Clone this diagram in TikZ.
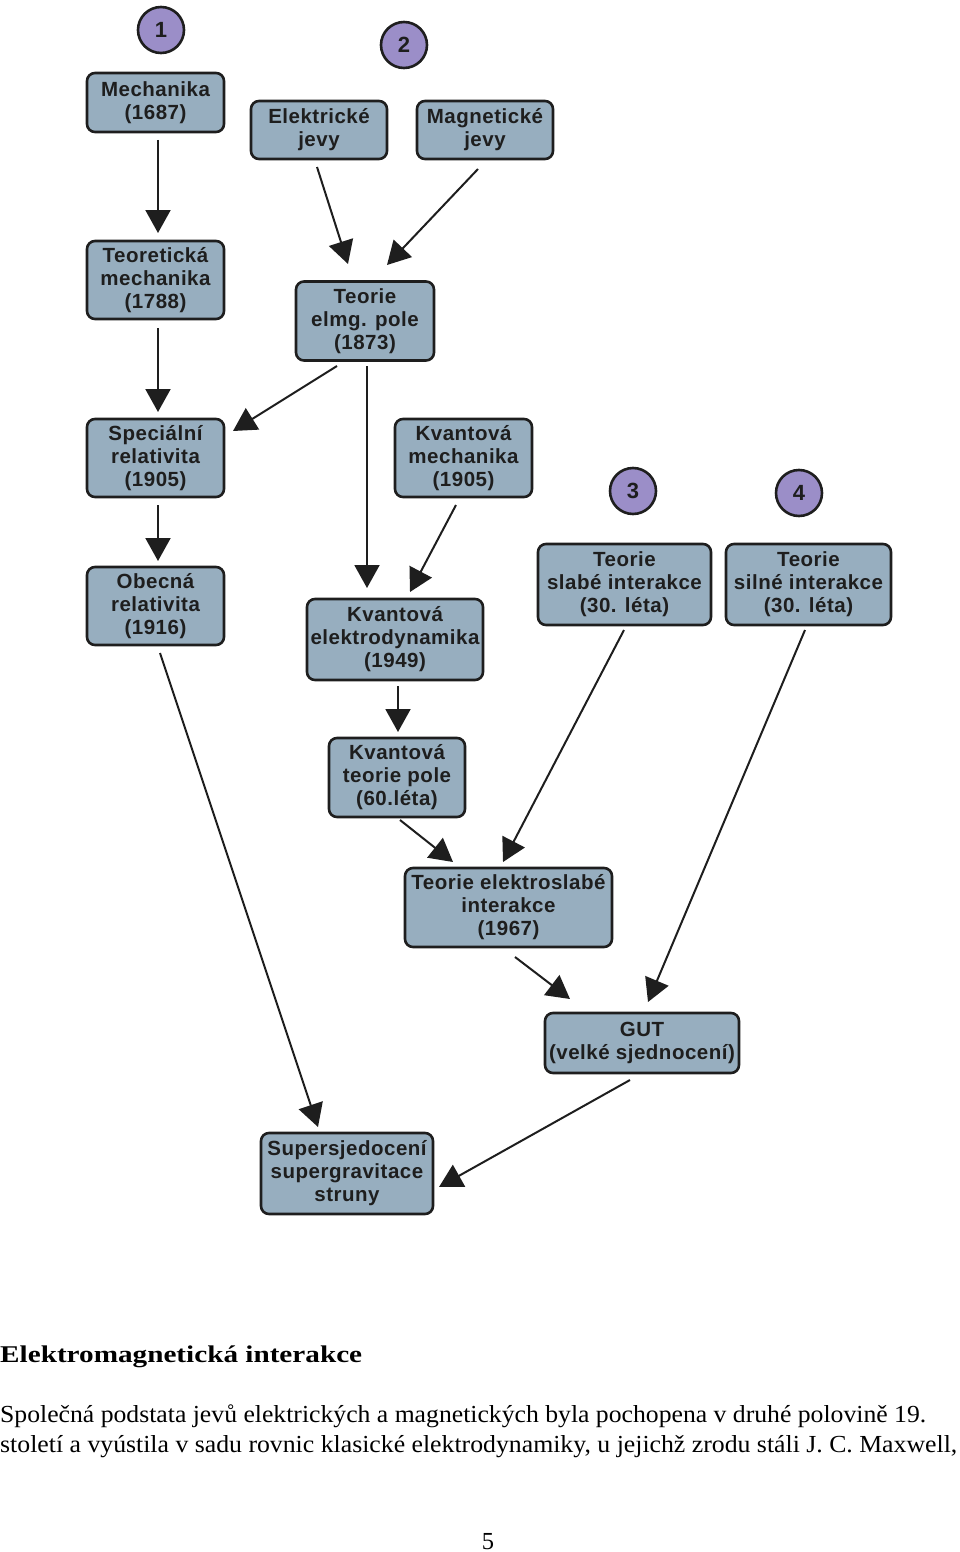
\documentclass[tikz,border=0pt]{standalone}
\usepackage{fontspec}
\usepackage{graphicx}
\setmainfont{Liberation Serif}
\newfontfamily\boxfont[LetterSpace=2.5]{Liberation Sans}
\usetikzlibrary{arrows.meta,calc}
\definecolor{boxblue}{HTML}{97AEBF}
\definecolor{circpurple}{HTML}{9B8EC8}
\definecolor{edge}{HTML}{1E1E1E}
\begin{document}
\begin{tikzpicture}[x=1pt,y=-1pt,
  box/.style={draw=edge, line width=2.6pt, fill=boxblue, rounded corners=8pt,
    align=center, inner sep=0pt, text=edge,
    font=\boxfont\bfseries\fontsize{20.5}{23}\selectfont},
  numc/.style={circle, draw=edge, line width=2.6pt, fill=circpurple,
    minimum size=46pt, inner sep=0pt, text=edge,
    font=\boxfont\bfseries\fontsize{22}{24}\selectfont},
  arr/.style={draw=edge, line width=2pt, -{Triangle[width=25pt,length=23pt]}},
  txt/.style={anchor=base west, inner sep=0pt, text=black}]
\path[use as bounding box] (0,0) rectangle (960,1552);

% numbered circles
\node[numc] (c1) at (161,30) {1};
\node[numc] (c2) at (404,45) {2};
\node[numc] (c3) at (633,491) {3};
\node[numc] (c4) at (799,493) {4};

% boxes
\node[box, minimum width=137pt, minimum height=59pt] (mech) at (155.5,102.5) {Mechanika\\(1687)};
\node[box, minimum width=136pt, minimum height=58pt] (elek) at (319,130) {Elektrické\\jevy};
\node[box, minimum width=136pt, minimum height=58pt] (magn) at (485,130) {Magnetické\\jevy};
\node[box, minimum width=137pt, minimum height=78pt] (teor) at (155.5,280) {Teoretická\\mechanika\\(1788)};
\node[box, minimum width=138pt, minimum height=79pt] (elmg) at (365,321) {Teorie\\elmg. pole\\(1873)};
\node[box, minimum width=137pt, minimum height=78pt] (spec) at (155.5,458) {Speciální\\relativita\\(1905)};
\node[box, minimum width=137pt, minimum height=78pt] (kvm) at (463.5,458) {Kvantová\\mechanika\\(1905)};
\node[box, minimum width=137pt, minimum height=78pt] (obec) at (155.5,606) {Obecná\\relativita\\(1916)};
\node[box, minimum width=173pt, minimum height=81pt] (slab) at (624.5,584.5) {Teorie\\slabé interakce\\(30. léta)};
\node[box, minimum width=165pt, minimum height=81pt] (siln) at (808.5,584.5) {Teorie\\silné interakce\\(30. léta)};
\node[box, minimum width=176pt, minimum height=81pt] (ked) at (395,639.5) {Kvantová\\elektrodynamika\\(1949)};
\node[box, minimum width=136pt, minimum height=79pt] (ktp) at (397,777.5) {Kvantová\\teorie pole\\(60.léta)};
\node[box, minimum width=207pt, minimum height=79pt] (elsl) at (508.5,907.5) {Teorie elektroslabé\\interakce\\(1967)};
\node[box, minimum width=194pt, minimum height=60pt] (gut) at (642,1043) {GUT\\(velké sjednocení)};
\node[box, minimum width=172pt, minimum height=81pt] (sup) at (347,1173.5) {Supersjedocení\\supergravitace\\struny};

% connectors
\draw[arr] ($(mech)+(2.5,37.5)$) -- ($(teor)+(2.5,-47)$);
\draw[arr] ($(elek)+(-2,37)$) -- ($(elmg)+(-17,-57)$);
\draw[arr] ($(magn)+(-7,39)$) -- ($(elmg)+(22,-56)$);
\draw[arr] ($(teor)+(2.5,48)$) -- ($(spec)+(2.5,-46)$);
\draw[arr] ($(elmg)+(-28,45)$) -- ($(spec)+(77.5,-27)$);
\draw[arr] ($(elmg)+(2,45)$) -- ($(ked)+(-28,-51.5)$);
\draw[arr] ($(kvm)+(-7.5,47)$) -- ($(ked)+(15,-47.5)$);
\draw[arr] ($(spec)+(2.5,47)$) -- ($(obec)+(2.5,-45)$);
\draw[arr] ($(obec)+(4.5,47)$) -- ($(sup)+(-29,-46.5)$);
\draw[arr] ($(ked)+(3,46.5)$) -- ($(ktp)+(1,-45.5)$);
\draw[arr] ($(ktp)+(3,42.5)$) -- ($(elsl)+(-55.5,-45.5)$);
\draw[arr] ($(slab)+(-0.5,45.5)$) -- ($(elsl)+(-5.5,-45.5)$);
\draw[arr] ($(elsl)+(6.5,49.5)$) -- ($(gut)+(-72,-44)$);
\draw[arr] ($(siln)+(-3.5,45.5)$) -- ($(gut)+(6,-41)$);
\draw[arr] ($(gut)+(-12,37)$) -- ($(sup)+(92,13.5)$);

% text below
\node[txt, font=\bfseries\fontsize{24}{28}\selectfont] (title) at (0,1362) {\resizebox{362pt}{\height}{Elektromagnetická interakce}};
\node[txt, font=\fontsize{24.5}{28}\selectfont] (p1) at (0,1422) {\resizebox{926pt}{\height}{Společná podstata jevů elektrických a magnetických byla pochopena v druhé polovině 19.}};
\node[txt, font=\fontsize{24.5}{28}\selectfont] (p2) at (0,1452) {\resizebox{957pt}{\height}{století a vyústila v sadu rovnic klasické elektrodynamiky, u jejichž zrodu stáli J. C. Maxwell,}};
\node[anchor=base, inner sep=0pt, font=\fontsize{24.5}{28}\selectfont] (pg) at (488,1549) {5};
\end{tikzpicture}
\end{document}
